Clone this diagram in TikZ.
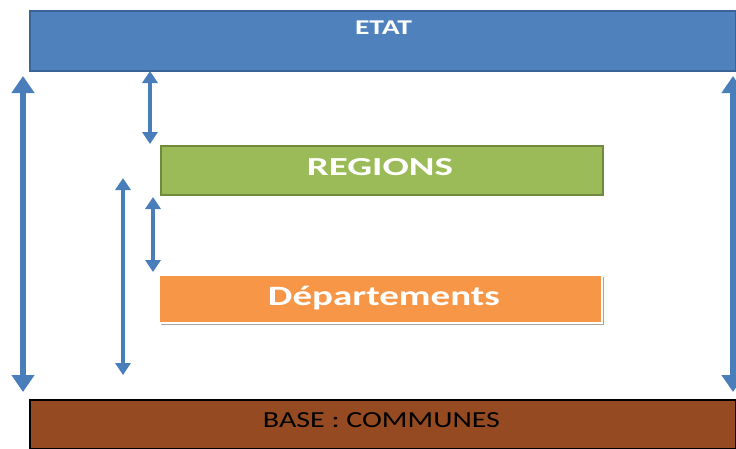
\documentclass[tikz,border=0pt]{standalone}
\usepackage{fontspec}
\setmainfont{Carlito}
\usetikzlibrary{arrows.meta,shadows}
\definecolor{etatblue}{HTML}{4F81BD}
\definecolor{etatedge}{HTML}{3A6496}
\definecolor{reggreen}{HTML}{9BBB59}
\definecolor{regedge}{HTML}{71893F}
\definecolor{deporange}{HTML}{F79646}
\definecolor{basebrown}{HTML}{964A21}
\definecolor{arrowblue}{HTML}{4A7EBB}
\tikzset{
  levelbox/.style={inner sep=0pt, anchor=north west},
  bigarrow/.style={draw=arrowblue, line width=6pt,
    {Triangle[width=22pt,length=17pt]}-{Triangle[width=22pt,length=17pt]}},
  smallarrow/.style={draw=arrowblue, line width=4pt,
    {Triangle[width=15pt,length=12pt]}-{Triangle[width=15pt,length=12pt]}},
}
\begin{document}
\begin{tikzpicture}[x=1pt,y=-1pt]
\useasboundingbox (0,0) rectangle (736,448);
\fill[white] (0,0) rectangle (736,448);
% boxes
\node[levelbox, draw=etatedge, fill=etatblue, line width=1.5pt,
  minimum width=706pt, minimum height=60pt] (etat) at (29,10) {};
\node[levelbox, draw=regedge, fill=reggreen, line width=1.5pt,
  minimum width=442pt, minimum height=49pt] (regions) at (160,145) {};
\node[levelbox, draw=white, fill=deporange, line width=2pt,
  minimum width=443pt, minimum height=48pt,
  drop shadow={shadow xshift=1.5pt, shadow yshift=-2.5pt, opacity=0.35, fill=black}] (dep) at (158,273.5) {};
\node[levelbox, draw=black, fill=basebrown, line width=1.5pt,
  minimum width=706pt, minimum height=49pt] (base) at (29,399) {};
% texts
\node[anchor=base, inner sep=0pt, text=white, font=\bfseries\fontsize{21}{21}\selectfont]
  (etatlabel) at (383.5,34) {\resizebox{57pt}{\height}{ETAT}};
\node[anchor=base, inner sep=0pt, text=white, font=\bfseries\fontsize{26}{26}\selectfont]
  (reglabel) at (380,175) {\resizebox{146pt}{\height}{REGIONS}};
\node[anchor=base, inner sep=0pt, text=white, font=\bfseries\fontsize{28}{28}\selectfont]
  (deplabel) at (384,305) {\resizebox{232pt}{\height}{Départements}};
\node[anchor=base, inner sep=0pt, text=black, font=\fontsize{23}{23}\selectfont]
  (baselabel) at (381.5,427) {\resizebox{237pt}{\height}{BASE : COMMUNES}};
% arrow ends
\coordinate (l1) at (23,76);   \coordinate (l2) at (23,392);
\coordinate (r1) at (733,76);  \coordinate (r2) at (733,392);
\coordinate (a1) at (150,71);  \coordinate (a2) at (150,144);
\coordinate (b1) at (123,178); \coordinate (b2) at (123,375);
\coordinate (c1) at (153,197); \coordinate (c2) at (153,272);
% arrows
\draw[bigarrow] (l1) -- (l2);
\draw[bigarrow] (r1) -- (r2);
\draw[smallarrow] (a1) -- (a2);
\draw[smallarrow] (b1) -- (b2);
\draw[smallarrow] (c1) -- (c2);
\end{tikzpicture}
\end{document}
